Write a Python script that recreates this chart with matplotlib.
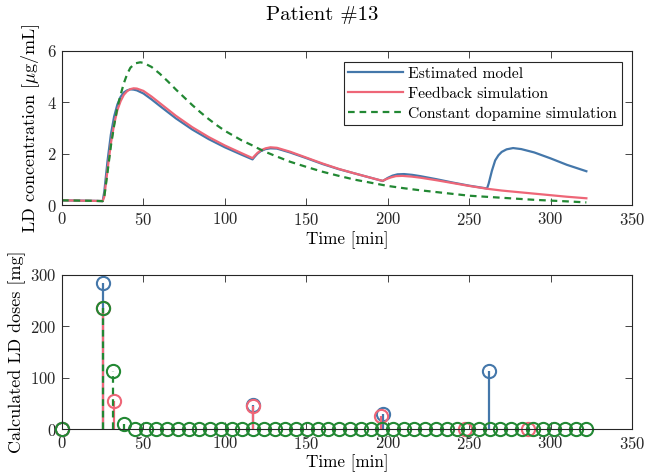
import numpy as np
import matplotlib
matplotlib.use("Agg")
import matplotlib.pyplot as plt

plt.rcParams["font.family"] = "serif"
plt.rcParams["font.serif"] = ["cmr10", "DejaVu Serif"]
plt.rcParams["mathtext.fontset"] = "cm"
plt.rcParams["axes.unicode_minus"] = False
plt.rcParams["axes.formatter.use_mathtext"] = True

blue = "#4477AA"
red = "#EE6677"
green = "#228833"

# LD concentration curves
t_est = [0, 10, 20, 25, 26, 28, 30, 32, 34, 36, 38, 40, 42, 44, 46, 50, 55, 60, 70, 80, 90,
         100, 110, 117, 118, 120, 122, 125, 128, 132, 140, 150, 160, 170, 180, 190, 197,
         198, 200, 203, 206, 210, 215, 220, 230, 240, 250, 261, 262, 263, 264, 266, 268,
         270, 273, 277, 282, 290, 300, 310, 322]
c_est = [0.20, 0.19, 0.18, 0.17, 0.55, 1.75, 2.75, 3.45, 3.92, 4.22, 4.39, 4.47, 4.51, 4.50,
         4.47, 4.35, 4.12, 3.87, 3.38, 2.95, 2.58, 2.26, 1.98, 1.79, 1.87, 2.01, 2.11, 2.19,
         2.22, 2.21, 2.06, 1.84, 1.61, 1.41, 1.24, 1.07, 0.95, 0.99, 1.07, 1.16, 1.21, 1.22,
         1.19, 1.14, 1.02, 0.89, 0.77, 0.66, 0.85, 1.10, 1.35, 1.75, 1.95, 2.08, 2.18, 2.23,
         2.19, 2.06, 1.83, 1.58, 1.33]

t_fb = [0, 10, 20, 25, 26, 28, 30, 32, 34, 36, 38, 40, 42, 44, 46, 50, 55, 60, 70, 80, 90,
        100, 110, 117, 118, 120, 122, 125, 128, 132, 140, 150, 160, 170, 180, 190, 196,
        197, 199, 202, 205, 209, 215, 220, 230, 240, 250, 261, 270, 280, 290, 300, 310, 322]
c_fb = [0.20, 0.19, 0.18, 0.17, 0.35, 1.40, 2.40, 3.15, 3.70, 4.05, 4.30, 4.44, 4.52, 4.55,
        4.54, 4.45, 4.23, 3.98, 3.48, 3.04, 2.66, 2.33, 2.04, 1.84, 1.91, 2.04, 2.14, 2.22,
        2.26, 2.24, 2.09, 1.86, 1.63, 1.42, 1.24, 1.07, 0.97, 0.96, 1.02, 1.09, 1.14, 1.15,
        1.12, 1.08, 0.98, 0.87, 0.76, 0.65, 0.58, 0.52, 0.46, 0.40, 0.34, 0.28]

t_const = [0, 10, 20, 25, 26, 28, 30, 32, 34, 36, 38, 40, 42, 45, 48, 50, 55, 60, 65, 70,
           75, 80, 85, 90, 95, 100, 105, 110, 117, 120, 125, 130, 140, 150, 160, 170, 180,
           190, 200, 210, 220, 230, 240, 250, 260, 270, 280, 290, 300, 310, 322]
c_const = [0.20, 0.19, 0.18, 0.17, 0.35, 1.30, 2.30, 3.10, 3.80, 4.30, 4.75, 5.10, 5.35,
           5.52, 5.56, 5.54, 5.38, 5.12, 4.82, 4.50, 4.20, 3.90, 3.62, 3.36, 3.12, 2.90,
           2.72, 2.54, 2.33, 2.23, 2.08, 1.95, 1.70, 1.50, 1.31, 1.15, 1.00, 0.88, 0.76,
           0.67, 0.59, 0.52, 0.45, 0.38, 0.34, 0.30, 0.26, 0.22, 0.19, 0.16, 0.12]

# calculated doses
dose_t_est = [0, 25.0, 117.2, 197.3, 262.2]
dose_est = [0, 284, 48, 29, 113]

dose_t_fb = [0, 25.0, 31.8, 117.2, 195.8, 247.4, 286.3]
dose_fb = [0, 236, 54, 45, 25, 0, 0]

dose_t_const = [0, 25.0, 31.6, 38.2, 44.8, 51.4, 58.0, 64.6, 71.2, 77.8, 84.4, 91.0, 97.6,
                104.2, 110.8, 117.4, 124.0, 130.6, 137.2, 143.8, 150.4, 157.0, 163.6, 170.2,
                176.8, 183.4, 190.0, 196.6, 203.2, 209.8, 216.4, 223.0, 229.6, 236.2, 242.8,
                249.4, 256.0, 262.6, 269.2, 275.8, 282.4, 289.0, 295.6, 302.2, 308.8, 315.4,
                322.0]
dose_const = [0, 236, 113, 11, 0, 0, 0, 0, 0, 0, 0, 0, 0, 0, 0, 0, 0, 0, 0, 0, 0, 0, 0, 0,
              0, 0, 0, 0, 0, 0, 0, 0, 0, 0, 0, 0, 0, 0, 0, 0, 0, 0, 0, 0, 0, 0, 0]

fig = plt.figure(figsize=(6.45, 4.76), dpi=100)
ax1 = fig.add_axes([0.0961, 0.5683, 0.8837, 0.3246])
ax2 = fig.add_axes([0.0961, 0.0981, 0.8837, 0.3248])

dash = (0, (3, 2.2))
lw = 1.6

ax1.plot(t_est, c_est, color=blue, lw=lw, label="Estimated model")
ax1.plot(t_fb, c_fb, color=red, lw=lw, label="Feedback simulation")
ax1.plot(t_const, c_const, color=green, lw=lw, linestyle=dash,
         label="Constant dopamine simulation")
ax1.set_xlim(0, 350)
ax1.set_ylim(0, 6)
ax1.set_yticks([0, 2, 4, 6])
ax1.set_xlabel("Time [min]", fontsize=12.3, labelpad=2)
ax1.set_ylabel("LD concentration [$\\mu$g/mL]", fontsize=13, labelpad=3)
fig.text(0.5, 1 - 15 / 476, "Patient #13", fontsize=15, ha="center", va="center")
leg = ax1.legend(loc="upper right", bbox_to_anchor=(0.996, 0.978), fontsize=11.2,
                 handlelength=3.5, borderpad=0.3, labelspacing=0.38, handletextpad=0.35,
                 fancybox=False, framealpha=1, edgecolor="#262626")
leg.get_frame().set_linewidth(0.8)

for tt, dd, col, ls in [(dose_t_est, dose_est, blue, "-"),
                        (dose_t_fb, dose_fb, red, "-"),
                        (dose_t_const, dose_const, green, "--")]:
    ml, sl, bl = ax2.stem(tt, dd, basefmt=" ")
    sl.set_color(col)
    sl.set_linewidth(lw)
    if ls == "--":
        sl.set_linestyle(dash)
    ml.set_marker("o")
    ml.set_markersize(9.5)
    ml.set_markerfacecolor("none")
    ml.set_markeredgecolor(col)
    ml.set_markeredgewidth(1.5)
    ml.set_clip_on(False)

ax2.set_xlim(0, 350)
ax2.set_ylim(0, 300)
ax2.set_yticks([0, 100, 200, 300])
ax2.set_xlabel("Time [min]", fontsize=12.3, labelpad=2)
ax2.set_ylabel("Calculated LD doses [mg]", fontsize=13, labelpad=3)

for ax in (ax1, ax2):
    ax.set_xticks(np.arange(0, 351, 50))
    ax.tick_params(direction="in", top=True, right=True, length=5, width=0.6,
                   labelsize=12, colors="#262626", pad=4)
    for s in ax.spines.values():
        s.set_linewidth(0.8)
        s.set_color("#262626")

fig.savefig("out.png", dpi=100)
